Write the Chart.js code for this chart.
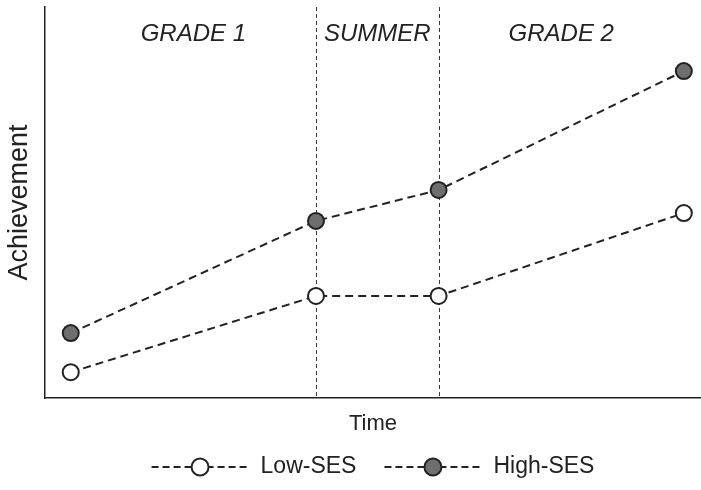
<!DOCTYPE html>
<html>
<head>
<meta charset="utf-8">
<script src="https://cdn.jsdelivr.net/npm/chart.js@4"></script>
<style>
  html, body { margin: 0; padding: 0; background: #fff; }
  #wrap { width: 701px; height: 490px; }
</style>
</head>
<body>
<div id="wrap"><canvas id="chart" width="701" height="490"></canvas></div>
<script>
// Achievement over time by SES — grade 1, summer break, grade 2.

const timePoints = [0, 2, 3, 5];           // start G1, end G1, start G2, end G2
const lowSES     = [6.6, 26.1, 26.1, 47.3];
const highSES    = [16.6, 45.3, 53.2, 83.6];
const periods    = ["GRADE 1", "SUMMER", "GRADE 2"];
const boundaries = [2, 3];                  // dashed separators

const FONT = '"Liberation Sans", Arial, Helvetica, sans-serif';
const INK  = "#222";

// ── period separators + labels ───────────────────────────────────────────
const periodsPlugin = {
  id: "periods",
  beforeDatasetsDraw(chart) {
    const { ctx, chartArea: a, scales: { x } } = chart;
    ctx.save();
    ctx.strokeStyle = "#3a3a3a";
    ctx.lineWidth = 1;
    ctx.setLineDash([4, 3]);
    boundaries.forEach(b => {
      const px = Math.round(x.getPixelForValue(b)) + 0.5;
      ctx.beginPath();
      ctx.moveTo(px, a.top);
      ctx.lineTo(px, a.bottom);
      ctx.stroke();
    });
    ctx.setLineDash([]);
    ctx.fillStyle = INK;
    ctx.font = "italic 24px " + FONT;
    ctx.textAlign = "center";
    ctx.textBaseline = "middle";
    periods.forEach((p, i) => {
      const mid = (timePoints[i] + timePoints[i + 1]) / 2;
      ctx.fillText(p, x.getPixelForValue(mid), a.top + 27);
    });
    ctx.restore();
  }
};

// ── legend: dashed line with marker, then label ─────────────────────────
const legendPlugin = {
  id: "dashLegend",
  afterDraw(chart) {
    const { ctx, chartArea: a } = chart;
    const glyphW = 97, gap = 12, itemGap = 28;
    ctx.save();
    ctx.font = "23px " + FONT;
    const sets = chart.data.datasets;
    const widths = sets.map(d => glyphW + gap + ctx.measureText(d.label).width);
    const total = widths.reduce((s, w) => s + w, 0) + itemGap * (sets.length - 1);
    let x0 = (a.left + a.right) / 2 - total / 2;
    const y = chart.height - 23;
    sets.forEach((d, i) => {
      ctx.strokeStyle = d.borderColor;
      ctx.lineWidth = d.borderWidth;
      ctx.setLineDash([7, 4]);
      ctx.beginPath();
      ctx.moveTo(x0, y);
      ctx.lineTo(x0 + glyphW, y);
      ctx.stroke();
      ctx.setLineDash([]);
      ctx.beginPath();
      ctx.arc(x0 + glyphW / 2, y, d.pointRadius + 0.5, 0, Math.PI * 2);
      ctx.fillStyle = d.pointBackgroundColor;
      ctx.fill();
      ctx.lineWidth = d.pointBorderWidth;
      ctx.strokeStyle = d.pointBorderColor;
      ctx.stroke();
      ctx.fillStyle = INK;
      ctx.textAlign = "left";
      ctx.textBaseline = "middle";
      ctx.fillText(d.label, x0 + glyphW + gap, y);
      x0 += widths[i] + itemGap;
    });
    ctx.restore();
  }
};

function series(label, values, fill) {
  return {
    label,
    data: timePoints.map((t, i) => ({ x: t, y: values[i] })),
    borderColor: INK,
    borderWidth: 2,
    borderDash: [8, 5],
    pointRadius: 8,
    pointHoverRadius: 8,
    pointBorderWidth: 2,
    pointBorderColor: INK,
    pointBackgroundColor: fill,
    tension: 0,
    clip: false
  };
}

new Chart(document.getElementById("chart"), {
  type: "line",
  data: {
    datasets: [
      series("Low-SES", lowSES, "#ffffff"),
      series("High-SES", highSES, "#6e6e6e")
    ]
  },
  options: {
    responsive: false,
    devicePixelRatio: 1,
    animation: false,
    layout: { autoPadding: false, padding: { top: 7, right: 0, bottom: 42, left: 0 } },
    plugins: { legend: { display: false }, tooltip: { enabled: false } },
    scales: {
      x: {
        type: "linear",
        min: -0.21,
        max: 5.14,
        grid: { display: false },
        ticks: { display: false },
        border: { display: true, color: INK, width: 1.5 },
        title: {
          display: true, text: "Time", color: INK,
          font: { family: FONT, size: 22 },
          padding: { top: 0, bottom: 11 }
        },
        afterFit(s) { s.height = 50; }
      },
      y: {
        min: 0,
        max: 100,
        grid: { display: false },
        ticks: { display: false },
        border: { display: true, color: INK, width: 1.5 },
        title: {
          display: true, text: "Achievement", color: INK,
          font: { family: FONT, size: 27 },
          padding: { top: 3, bottom: 0 }
        },
        afterFit(s) { s.width = 45; }
      }
    }
  },
  plugins: [periodsPlugin, legendPlugin]
});
</script>
</body>
</html>
